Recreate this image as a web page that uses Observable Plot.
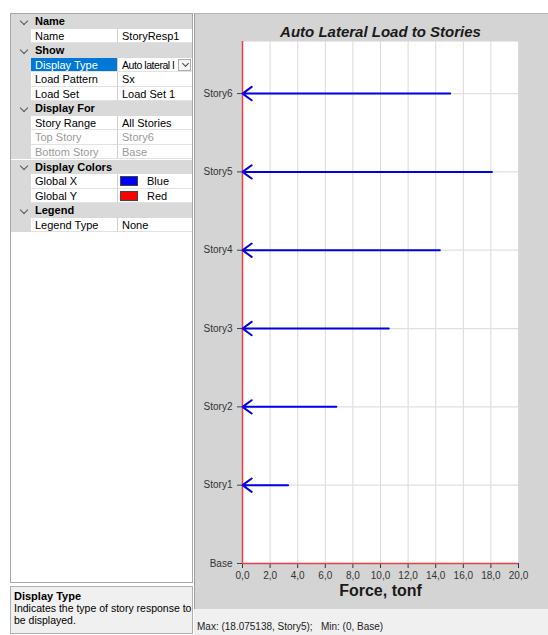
<!DOCTYPE html>
<html><head><meta charset="utf-8">
<script src="https://cdn.jsdelivr.net/npm/d3@7"></script>
<script src="https://cdn.jsdelivr.net/npm/@observablehq/plot@0.6"></script>
<style>
html,body{margin:0;padding:0}
body{width:548px;height:635px;overflow:hidden;background:#fff;position:relative;font-family:"Liberation Sans",Arial,sans-serif;color:#000}
.abs{position:absolute;box-sizing:border-box}
#gridFrame{left:10px;top:13px;width:183px;height:570px;border:1px solid #a8a8a8;background:#fff}
.cell{position:absolute;box-sizing:border-box;font-size:11px;line-height:14px;white-space:nowrap;overflow:hidden}
.hdr{background:#d9d9d9;font-weight:bold;padding-left:24px}
.gut{background:#d9d9d9}
.nm{padding-left:4px;border-bottom:1px solid #e2e2e2;border-right:1px solid #d0d0d0}
.vl{padding-left:4px;border-bottom:1px solid #e2e2e2}
.chev{position:absolute;width:5px;height:5px;border-right:1.3px solid #555;border-bottom:1.3px solid #555;transform:rotate(45deg)}
#desc{left:10px;top:586px;width:183px;height:48px;background:#f0f0f0;border:1px solid #b0b0b0;font-size:10.5px;line-height:12px;padding:3px 0 0 3px}
#panel{left:194px;top:13px;width:354px;height:596px;background:#d4d4d4;border-left:1px solid #a0a0a0;border-top:1px solid #b4b4b4}
#status{left:194px;top:609px;width:354px;height:26px;background:#f0f0f0;font-size:10px;padding:12px 0 0 3px;color:#222;white-space:pre}
</style></head><body>
<div id="gridFrame" class="abs"></div>
<div id="desc" class="abs"><b style="font-size:11px">Display Type</b><br>Indicates the type of story response to<br>be displayed.</div>
<div id="panel" class="abs"></div>
<div id="status" class="abs">Max: (18.075138, Story5);   Min: (0, Base)</div>
<script>
// ---- data ----
const storyNames = ["Base", "Story1", "Story2", "Story3", "Story4", "Story5", "Story6"];
const loadedStories = ["Story1", "Story2", "Story3", "Story4", "Story5", "Story6"];
const forces = [3.3, 6.8, 10.6, 14.3, 18.075138, 15.05];
const forceTicks = [0, 2, 4, 6, 8, 10, 12, 14, 16, 18, 20];
const forceTickLabels = ["0,0", "2,0", "4,0", "6,0", "8,0", "10,0", "12,0", "14,0", "16,0", "18,0", "20,0"];
const chartTitle = "Auto Lateral Load to Stories";
const xLabel = "Force, tonf";

// property grid content
const gridHeaders = ["Name", null, "Show", null, null, null, "Display For", null, null, null, "Display Colors", null, null, "Legend", null];
const gridNames = [null, "Name", null, "Display Type", "Load Pattern", "Load Set", null, "Story Range", "Top Story", "Bottom Story", null, "Global X", "Global Y", null, "Legend Type"];
const gridValues = [null, "StoryResp1", null, "Auto lateral l", "Sx", "Load Set 1", null, "All Stories", "Story6", "Base", null, "Blue", "Red", null, "None"];

// ---- property grid ----
const frame = document.getElementById("gridFrame");
const rowH = 14.55;
gridHeaders.forEach((h, i) => {
  const top = i * rowH;
  if (h) {
    const d = document.createElement("div");
    d.className = "cell hdr";
    Object.assign(d.style, {left: "0px", top: top + "px", width: "181px", height: rowH + "px", lineHeight: rowH + "px"});
    d.textContent = h;
    frame.appendChild(d);
    const c = document.createElement("div");
    c.className = "chev";
    Object.assign(c.style, {left: "10px", top: (top + 3.5) + "px"});
    frame.appendChild(c);
  } else {
    const g = document.createElement("div");
    g.className = "cell gut";
    Object.assign(g.style, {left: "0px", top: top + "px", width: "20px", height: rowH + "px"});
    frame.appendChild(g);
    const n = document.createElement("div");
    n.className = "cell nm";
    Object.assign(n.style, {left: "20px", top: top + "px", width: "87px", height: rowH + "px", lineHeight: rowH + "px"});
    n.textContent = gridNames[i];
    if (gridNames[i] === "Display Type") { n.style.background = "#0078d7"; n.style.color = "#fff"; }
    if (gridNames[i] === "Top Story" || gridNames[i] === "Bottom Story") n.style.color = "#9a9a9a";
    frame.appendChild(n);
    const v = document.createElement("div");
    v.className = "cell vl";
    Object.assign(v.style, {left: "107px", top: top + "px", width: "74px", height: rowH + "px", lineHeight: rowH + "px"});
    const val = gridValues[i];
    if (val === "Blue" || val === "Red") {
      v.innerHTML = `<span style="display:inline-block;width:18px;height:10px;vertical-align:-1px;background:${val === "Blue" ? "#0000ff" : "#ff0000"};border:1px solid #444;box-sizing:border-box;margin-right:9px"></span>${val}`;
      v.style.paddingLeft = "2px";
    } else if (gridNames[i] === "Display Type") {
      v.innerHTML = `<span style="font-size:10.5px;letter-spacing:-0.45px">${val}</span>`;
    } else {
      v.textContent = val;
    }
    if (gridNames[i] === "Top Story" || gridNames[i] === "Bottom Story") v.style.color = "#9a9a9a";
    frame.appendChild(v);
    if (gridNames[i] === "Display Type") {
      const b = document.createElement("div");
      b.className = "cell";
      Object.assign(b.style, {left: "167px", top: (top + 1) + "px", width: "13px", height: (rowH - 2) + "px", background: "#f4f4f4", border: "1px solid #adadad"});
      const c = document.createElement("div");
      c.className = "chev";
      Object.assign(c.style, {left: "3.5px", top: "1.5px", width: "4px", height: "4px", borderColor: "#444"});
      b.appendChild(c);
      frame.appendChild(b);
    }
  }
});

// ---- chart ----
const rows = loadedStories.map((s, i) => ({story: s, level: storyNames.indexOf(s), force: forces[i]}));
const levels = storyNames.map((s, i) => i);

const chart = Plot.plot({
  width: 353,
  height: 595,
  marginLeft: 47,
  marginRight: 30,
  marginTop: 27,
  marginBottom: 46,
  style: {background: "transparent", fontFamily: "'Liberation Sans', Arial, sans-serif", fontSize: "10px", color: "#333"},
  x: {domain: [0, 20]},
  y: {domain: [0, 6.665]},
  marks: [
    Plot.frame({fill: "white", stroke: null}),
    Plot.gridX(forceTicks.slice(1), {stroke: "#d9d9d9", strokeOpacity: 1, strokeWidth: 1}),
    Plot.gridY(levels.slice(1), {stroke: "#e0e0e0", strokeOpacity: 1, strokeWidth: 1.2}),
    Plot.axisX(forceTicks, {tickFormat: d => forceTickLabels[forceTicks.indexOf(d)], tickSize: 5, tickPadding: 3, label: null, stroke: "#333", fill: "#333"}),
    Plot.axisY(levels, {tickFormat: d => storyNames[d], tickSize: 5, tickPadding: 5, label: null, stroke: "#444", fill: "#333"}),
    Plot.ruleY([0], {stroke: "#ee4040", strokeWidth: 1.5}),
    Plot.ruleX([0], {stroke: "#ee4040", strokeWidth: 1.5}),
    Plot.arrow(rows, {x1: "force", x2: d => 0, y1: "level", y2: "level", stroke: "#0000e6", strokeWidth: 2, headLength: 8.5, headAngle: 72}),
    Plot.text([chartTitle], {frameAnchor: "top", dy: -15, text: d => d, fontSize: 15, fontWeight: "bold", fontStyle: "italic", fill: "#1a1a1a"}),
    Plot.text([xLabel], {frameAnchor: "bottom", dy: 32, text: d => d, fontSize: 16, fontWeight: "bold", fill: "#1a1a1a"})
  ]
});
chart.style.display = "block";
document.getElementById("panel").appendChild(chart);
</script>
</body></html>
